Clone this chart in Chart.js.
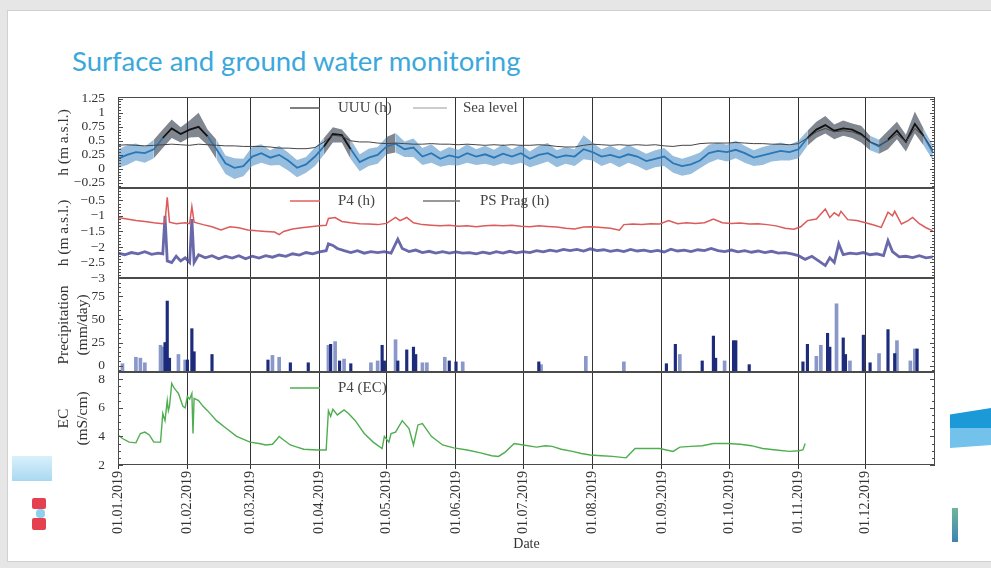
<!DOCTYPE html>
<html>
<head>
<meta charset="utf-8">
<title>Surface and ground water monitoring</title>
<script src="https://cdn.jsdelivr.net/npm/chart.js@4/dist/chart.umd.min.js"></script>
<style>
  html, body { margin: 0; padding: 0; }
  body { width: 991px; height: 568px; background: #e6e6e6; position: relative; overflow: hidden; }
  .slide { position: absolute; left: 7px; top: 10px; width: 990px; height: 552px; background: #fff; border: 1px solid #d0d0d0; box-sizing: border-box; }
  h1 { position: absolute; left: 72px; top: 47px; margin: 0; font: 400 27.5px Lato, sans-serif; color: #3ba8dc; line-height: 1; white-space: nowrap; }
  canvas { position: absolute; left: 0; }
  .deco { position: absolute; }
</style>
</head>
<body>
<div class="slide"></div>
<h1>Surface and ground water monitoring</h1>

<!-- Deko links / rechts -->
<div class="deco" style="left:12px;top:456px;width:40px;height:25px;background:linear-gradient(#d9f0fb,#aad8f1);"></div>
<div class="deco" style="left:32px;top:498px;width:14px;height:11px;background:#e5404f;border-radius:2px;"></div>
<div class="deco" style="left:36px;top:509px;width:9px;height:9px;background:#8fd0ef;border-radius:4px;"></div>
<div class="deco" style="left:32px;top:518px;width:14px;height:12px;background:#e5404f;border-radius:2px;"></div>
<div class="deco" style="left:950px;top:408px;width:41px;height:22px;background:#1b9ad7;clip-path:polygon(0 30%,100% 0,100% 100%,0 100%);"></div>
<div class="deco" style="left:950px;top:428px;width:41px;height:20px;background:#72c2ec;clip-path:polygon(0 0,100% 0,100% 85%,0 100%);"></div>
<div class="deco" style="left:952px;top:508px;width:6px;height:34px;background:linear-gradient(#6db59a,#3f82b5);"></div>

<canvas id="c1" width="940" height="111" style="top:87px"></canvas>
<canvas id="c2" width="940" height="110" style="top:178px"></canvas>
<canvas id="c3" width="940" height="114" style="top:268px"></canvas>
<canvas id="c4" width="940" height="195" style="top:362px"></canvas>

<script>
// x-Werte: Tage seit 01.01.2019
const monthDays = [0, 31, 59, 90, 120, 151, 181, 212, 243, 273, 304, 334];
const monthLabels = ['01.01.2019', '01.02.2019', '01.03.2019', '01.04.2019', '01.05.2019', '01.06.2019',
                     '01.07.2019', '01.08.2019', '01.09.2019', '01.10.2019', '01.11.2019', '01.12.2019'];

// Panel 1: UUU (h) und Sea level
const uuuDays = [0, 4, 8, 12, 16, 20, 24, 28, 32, 36, 40, 44, 48, 52, 56, 60, 64, 68, 72, 76, 80, 84, 88, 92,
  96, 100, 104, 108, 112, 116, 120, 124, 128, 132, 136, 140, 144, 148, 152, 156, 160, 164, 168, 172, 176, 180,
  184, 188, 192, 196, 200, 204, 208, 212, 216, 220, 224, 228, 232, 236, 240, 244, 248, 252, 256, 260, 264, 268,
  272, 276, 280, 284, 288, 292, 296, 300, 304, 308, 312, 316, 320, 324, 328, 332, 336, 340, 344, 348, 352, 356, 360, 364];
const uuuLevel = [0.18, 0.25, 0.30, 0.28, 0.35, 0.55, 0.72, 0.62, 0.70, 0.75, 0.58, 0.35, 0.10, 0.02, 0.05, 0.22,
  0.28, 0.20, 0.25, 0.15, 0.02, 0.08, 0.22, 0.40, 0.62, 0.60, 0.35, 0.12, 0.20, 0.25, 0.40, 0.45, 0.35, 0.38,
  0.22, 0.28, 0.18, 0.24, 0.20, 0.28, 0.22, 0.26, 0.20, 0.27, 0.22, 0.28, 0.18, 0.25, 0.28, 0.20, 0.24, 0.22,
  0.35, 0.30, 0.22, 0.25, 0.20, 0.26, 0.22, 0.14, 0.18, 0.22, 0.10, 0.05, 0.08, 0.15, 0.28, 0.32, 0.30, 0.34,
  0.28, 0.20, 0.24, 0.28, 0.32, 0.30, 0.35, 0.55, 0.70, 0.78, 0.68, 0.72, 0.70, 0.62, 0.48, 0.40, 0.52, 0.68,
  0.48, 0.80, 0.58, 0.30];
const uuuHigh = [0.35, 0.42, 0.45, 0.40, 0.52, 0.70, 0.88, 0.74, 0.86, 1.00, 0.70, 0.52, 0.24, 0.19, 0.18, 0.40,
  0.44, 0.33, 0.41, 0.29, 0.16, 0.21, 0.38, 0.55, 0.74, 0.70, 0.52, 0.26, 0.36, 0.39, 0.57, 0.64, 0.49, 0.54,
  0.37, 0.44, 0.31, 0.39, 0.34, 0.44, 0.35, 0.41, 0.34, 0.44, 0.35, 0.43, 0.31, 0.41, 0.46, 0.33, 0.39, 0.35,
  0.60, 0.47, 0.35, 0.41, 0.33, 0.43, 0.35, 0.27, 0.33, 0.37, 0.23, 0.18, 0.23, 0.29, 0.43, 0.47, 0.43, 0.50,
  0.41, 0.33, 0.39, 0.43, 0.47, 0.43, 0.50, 0.68, 0.84, 0.94, 0.79, 0.86, 0.81, 0.77, 0.59, 0.52, 0.68, 0.84,
  0.61, 1.02, 0.71, 0.42];
const uuuLow = [0.02, 0.07, 0.15, 0.11, 0.19, 0.37, 0.55, 0.47, 0.56, 0.57, 0.42, 0.17, -0.09, -0.18, -0.13, 0.05,
  0.11, 0.06, 0.07, -0.03, -0.15, -0.07, 0.05, 0.25, 0.47, 0.47, 0.17, -0.04, 0.05, 0.09, 0.26, 0.29, 0.21, 0.21,
  0.07, 0.11, 0.04, 0.07, 0.06, 0.11, 0.07, 0.09, 0.05, 0.10, 0.07, 0.11, 0.03, 0.08, 0.13, 0.03, 0.09, 0.05,
  0.17, 0.15, 0.05, 0.11, 0.03, 0.11, 0.05, -0.03, 0.03, 0.05, -0.07, -0.12, -0.09, 0.01, 0.11, 0.17, 0.13, 0.19,
  0.11, 0.05, 0.07, 0.13, 0.15, 0.15, 0.19, 0.41, 0.55, 0.63, 0.53, 0.59, 0.55, 0.47, 0.33, 0.27, 0.35, 0.53,
  0.31, 0.63, 0.41, 0.16];
const seaLevel = [0.42, 0.43, 0.42, 0.41, 0.42, 0.43, 0.44, 0.43, 0.42, 0.44, 0.43, 0.42, 0.41, 0.41, 0.40, 0.40,
  0.40, 0.39, 0.37, 0.37, 0.36, 0.36, 0.38, 0.48, 0.60, 0.58, 0.50, 0.48, 0.48, 0.46, 0.45, 0.46, 0.45, 0.44,
  0.44, 0.45, 0.44, 0.44, 0.43, 0.44, 0.43, 0.42, 0.43, 0.42, 0.43, 0.42, 0.42, 0.43, 0.42, 0.40, 0.39, 0.39,
  0.42, 0.44, 0.43, 0.42, 0.43, 0.42, 0.43, 0.42, 0.43, 0.41, 0.40, 0.42, 0.42, 0.45, 0.46, 0.46, 0.46, 0.47,
  0.46, 0.45, 0.45, 0.44, 0.44, 0.43, 0.45, 0.55, 0.66, 0.72, 0.66, 0.68, 0.66, 0.60, 0.48, 0.42, 0.50, 0.62,
  0.48, 0.72, 0.58, 0.34];

// Panel 2: P4 (h) und PS Prag (h)
const p4Days = [0, 4, 8, 12, 16, 20, 21, 22, 23, 26, 30, 32, 33, 34, 38, 42, 46, 50, 54, 58, 62, 66, 70, 72, 74, 78,
  82, 86, 90, 93, 94, 97, 100, 104, 108, 112, 116, 120, 124, 126, 129, 132, 136, 140, 144, 148, 152, 156, 160, 164,
  168, 172, 176, 180, 184, 188, 192, 196, 200, 204, 208, 212, 216, 220, 224, 226, 230, 234, 238, 242, 246, 250, 254,
  258, 262, 266, 270, 274, 278, 282, 286, 290, 294, 298, 302, 305, 308, 312, 316, 318, 320, 322, 323, 326, 330, 334,
  338, 341, 344, 346, 347, 350, 353, 355, 358, 361, 364];
const p4Level = [-1.05, -1.10, -1.15, -1.18, -1.22, -1.25, -1.20, -0.40, -1.20, -1.25, -1.22, -1.25, -0.70, -1.20,
  -1.28, -1.35, -1.45, -1.35, -1.38, -1.45, -1.48, -1.50, -1.52, -1.60, -1.50, -1.42, -1.38, -1.35, -1.32, -1.30,
  -1.08, -1.05, -1.18, -1.22, -1.25, -1.26, -1.28, -1.24, -1.05, -1.15, -1.05, -1.22, -1.28, -1.30, -1.32, -1.30,
  -1.33, -1.32, -1.35, -1.32, -1.30, -1.32, -1.30, -1.33, -1.35, -1.32, -1.34, -1.36, -1.40, -1.42, -1.36, -1.35,
  -1.37, -1.40, -1.46, -1.28, -1.26, -1.28, -1.25, -1.26, -1.15, -1.25, -1.22, -1.24, -1.22, -1.10, -1.22, -1.24,
  -1.23, -1.26, -1.25, -1.28, -1.32, -1.40, -1.43, -1.35, -1.15, -1.10, -0.78, -1.05, -0.90, -1.00, -0.85, -1.12,
  -1.15, -1.22, -1.30, -1.37, -0.88, -1.00, -0.85, -1.26, -1.15, -1.05, -1.25, -1.38, -1.48];
const psDays = [0, 3, 6, 9, 12, 15, 18, 20, 21, 22, 24, 26, 28, 30, 32, 33, 34, 36, 39, 42, 45, 48, 51, 54, 57, 60,
  63, 66, 69, 72, 75, 78, 81, 84, 87, 90, 93, 94, 96, 98, 101, 104, 107, 110, 113, 116, 119, 122, 125, 127, 130,
  133, 136, 139, 142, 145, 148, 151, 154, 157, 160, 163, 166, 169, 172, 175, 178, 181, 184, 187, 190, 193, 196,
  199, 202, 205, 208, 211, 214, 217, 220, 223, 226, 229, 232, 235, 238, 241, 244, 247, 250, 253, 256, 259, 262,
  265, 268, 271, 274, 277, 280, 283, 286, 289, 292, 295, 298, 301, 304, 307, 310, 313, 316, 318, 320, 322, 324,
  327, 330, 333, 336, 339, 342, 344, 346, 349, 352, 355, 358, 361, 364];
const psLevel = [-2.20, -2.25, -2.18, -2.22, -2.15, -2.24, -2.20, -2.22, -1.00, -2.45, -2.50, -2.30, -2.45, -2.35,
  -2.50, -1.10, -2.50, -2.25, -2.35, -2.28, -2.38, -2.30, -2.36, -2.28, -2.38, -2.30, -2.36, -2.28, -2.33, -2.26,
  -2.30, -2.22, -2.26, -2.18, -2.22, -2.16, -2.12, -1.90, -1.95, -2.05, -2.12, -2.18, -2.12, -2.20, -2.15, -2.18,
  -2.15, -2.20, -1.75, -2.05, -2.15, -2.10, -2.18, -2.14, -2.20, -2.15, -2.20, -2.16, -2.20, -2.18, -2.22, -2.17,
  -2.21, -2.15, -2.20, -2.14, -2.19, -2.15, -2.18, -2.12, -2.16, -2.10, -2.14, -2.08, -2.12, -2.08, -2.13, -2.06,
  -2.12, -2.09, -2.14, -2.10, -2.15, -2.08, -2.13, -2.10, -2.15, -2.11, -2.16, -2.07, -2.13, -2.10, -2.15, -2.09,
  -2.12, -2.05, -2.12, -2.15, -2.10, -2.16, -2.12, -2.17, -2.13, -2.18, -2.14, -2.20, -2.18, -2.22, -2.28, -2.40,
  -2.30, -2.45, -2.60, -2.35, -2.50, -1.90, -2.25, -2.20, -2.22, -2.18, -2.25, -2.22, -2.28, -1.80, -2.15, -2.32,
  -2.30, -2.34, -2.28, -2.35, -2.32];

// Panel 3: Niederschlag (mm/day), zwei Stationen
const rainLightDays = [2, 8, 10, 12, 19, 20, 27, 30, 69, 72, 94, 97, 101, 113, 116, 124, 136, 138, 146, 154, 189,
  209, 226, 251, 271, 312, 314, 321, 327, 340, 348, 354, 356];
const rainLight = [2, 9, 8, 3, 22, 20, 12, 6, 11, 9, 22, 26, 7, 3, 5, 28, 3, 3, 9, 4, 1, 10, 4, 12, 5, 10, 22, 67,
  5, 13, 27, 5, 18];
const rainDarkDays = [21, 22, 23, 31, 33, 34, 42, 67, 77, 85, 95, 99, 104, 118, 119, 125, 129, 132, 133, 148, 151,
  188, 245, 249, 261, 266, 267, 275, 276, 282, 306, 308, 317, 318, 324, 325, 333, 336, 344, 347, 357];
const rainDark = [25, 70, 8, 6, 40, 15, 12, 6, 3, 3, 23, 5, 2, 22, 5, 5, 17, 20, 12, 5, 4, 4, 2, 23, 5, 32, 8, 27,
  27, 1, 4, 23, 35, 20, 30, 12, 33, 3, 39, 13, 18];

// Panel 4: P4 (EC) in mS/cm
const ecDays = [0, 2, 5, 8, 10, 12, 14, 16, 19, 20, 21, 22, 22.5, 23, 24, 25, 26, 27, 29, 30, 31, 32, 33, 33.5, 34,
  36, 38, 40, 44, 48, 53, 59, 63, 66, 69, 71, 72, 74, 77, 80, 83, 89, 93, 94, 95, 96, 98, 101, 103, 106, 110, 114,
  118, 119, 121, 122, 124, 127, 130, 132, 134, 136, 140, 145, 150, 156, 162, 167, 170, 173, 177, 181, 187, 191, 194,
  198, 203, 207, 211, 216, 221, 227, 231, 236, 242, 248, 251, 256, 261, 266, 272, 278, 283, 288, 294, 300, 304, 306, 307];
const ecValue = [4.1, 3.85, 3.6, 3.55, 4.2, 4.3, 4.1, 3.6, 3.6, 5.6, 5.1, 6.5, 5.8, 6.1, 7.7, 7.4, 7.2, 7.0, 6.1, 6.0,
  6.8, 6.6, 7.0, 4.2, 6.65, 6.5, 6.1, 5.8, 5.1, 4.6, 4.0, 3.6, 3.5, 3.4, 3.45, 3.8, 4.0, 3.75, 3.4, 3.25, 3.1, 3.05,
  3.05, 5.8, 5.4, 5.9, 5.5, 5.85, 5.6, 5.1, 4.2, 3.6, 3.15, 4.0, 3.6, 4.2, 4.3, 5.1, 4.55, 3.4, 4.8, 4.9, 4.0, 3.4,
  3.2, 3.05, 2.85, 2.65, 2.6, 2.9, 3.5, 3.4, 3.25, 3.35, 3.3, 3.1, 2.95, 2.8, 2.7, 2.65, 2.6, 2.5, 3.15, 3.15, 3.15,
  2.95, 3.25, 3.3, 3.35, 3.5, 3.5, 3.45, 3.35, 3.15, 3.05, 2.95, 3.0, 3.05, 3.5];

// --- Hilfsfunktionen ---
const pts = (xs, ys) => xs.map((x, i) => ({ x: x, y: ys[i] }));
const fmt = v => (v < 0 ? '\u2212' + Math.abs(v) : String(v));
const mid = c => (c.p0.parsed.y + c.p1.parsed.y) / 2;

Chart.defaults.font.family = '"Liberation Serif", "Times New Roman", serif';
Chart.defaults.color = '#333';
Chart.defaults.animation = false;
Chart.defaults.responsive = false;
Chart.defaults.plugins.legend.display = false;
Chart.defaults.plugins.tooltip.enabled = false;
Chart.defaults.elements.point.radius = 0;
Chart.defaults.elements.line.tension = 0;

// Rahmen um jedes Panel + kleine Ticks nach innen
const framePlugin = {
  id: 'frame',
  afterDraw(chart, args, opts) {
    const { ctx, chartArea: a } = chart;
    const y = chart.scales.y;
    ctx.save();
    ctx.strokeStyle = '#4a4a4a';
    ctx.lineWidth = 1;
    ctx.strokeRect(a.left + 0.5, a.top + 0.5, a.right - a.left - 1, a.bottom - a.top - 1);
    ctx.beginPath();
    const n0 = Math.ceil(y.min / opts.minor - 1e-9);
    const n1 = Math.floor(y.max / opts.minor + 1e-9);
    for (let n = n0; n <= n1; n++) {
      const v = n * opts.minor;
      const py = Math.round(y.getPixelForValue(v)) + 0.5;
      const len = opts.major.some(m => Math.abs(m - v) < 1e-6) ? 5 : 3;
      ctx.moveTo(a.left, py); ctx.lineTo(a.left + len, py);
      ctx.moveTo(a.right, py); ctx.lineTo(a.right - len, py);
    }
    ctx.stroke();
    ctx.restore();
  }
};

// Legende innerhalb des Panels
const legendPlugin = {
  id: 'panelLegend',
  afterDraw(chart, args, opts) {
    const { ctx, chartArea: a } = chart;
    const y = a.top + opts.dy;
    ctx.save();
    ctx.font = '15px "Liberation Serif"';
    ctx.textBaseline = 'middle';
    opts.items.forEach(it => {
      ctx.strokeStyle = it.color;
      ctx.lineWidth = 1.5;
      ctx.beginPath();
      ctx.moveTo(a.left + it.x0, y);
      ctx.lineTo(a.left + it.x1, y);
      ctx.stroke();
      ctx.fillStyle = '#444';
      ctx.fillText(it.text, a.left + it.tx, y);
    });
    ctx.restore();
  }
};

function xAxis(bottom) {
  return {
    type: 'linear',
    min: 0,
    max: 365,
    offset: false,
    afterBuildTicks: s => { s.ticks = monthDays.map(v => ({ value: v })); },
    afterFit: s => { s.paddingLeft = 0; s.paddingRight = 0; if (bottom) s.height = 90; },
    grid: { color: '#333', lineWidth: 1, offset: false, drawTicks: bottom, tickLength: 4 },
    border: { display: false },
    ticks: bottom
      ? { autoSkip: false, minRotation: 90, maxRotation: 90, padding: 2, font: { size: 14 },
          callback: v => monthLabels[monthDays.indexOf(v)] }
      : { display: false },
    title: bottom
      ? { display: true, text: 'Date', font: { size: 14 }, padding: { top: 0, bottom: 2 } }
      : { display: false }
  };
}

function yAxis(min, max, ticks, title) {
  return {
    min: min,
    max: max,
    afterBuildTicks: s => { s.ticks = ticks.map(v => ({ value: v })); },
    afterFit: s => { s.width = 118; s.paddingTop = 0; s.paddingBottom = 0; },
    grid: { display: false },
    border: { display: false },
    ticks: { autoSkip: false, padding: 5, font: { size: 13.5 }, callback: fmt },
    title: { display: true, text: title, font: { size: 15.5 }, padding: { top: 55, bottom: 0 } }
  };
}

const pad = { top: 10, bottom: 10, left: 0, right: 5 };

// Panel 1
const ticks1 = [-0.25, 0, 0.25, 0.5, 0.75, 1, 1.25];
new Chart(document.getElementById('c1'), {
  type: 'line',
  data: {
    datasets: [
      { data: pts(uuuDays, uuuHigh), borderWidth: 0, backgroundColor: 'rgba(95,155,205,0.65)', fill: '+1', order: 3,
        segment: { backgroundColor: c => mid(c) > 0.6 ? 'rgba(45,55,70,0.6)' : 'rgba(95,155,205,0.65)' } },
      { data: pts(uuuDays, uuuLow), borderWidth: 0, fill: false, order: 3 },
      { label: 'UUU (h)', data: pts(uuuDays, uuuLevel), borderWidth: 1.8, borderColor: '#2f7fbd', fill: false, order: 2,
        segment: { borderColor: c => mid(c) > 0.47 ? '#111' : '#2a77b5' } },
      { label: 'Sea level', data: pts(uuuDays, seaLevel), borderWidth: 1, borderColor: '#444', fill: false, order: 1 }
    ]
  },
  options: {
    layout: { padding: pad },
    scales: { x: xAxis(false), y: yAxis(-0.34, 1.28, ticks1, 'h (m a.s.l.)') },
    plugins: {
      frame: { major: ticks1, minor: 0.05 },
      panelLegend: { dy: 11, items: [
        { text: 'UUU (h)', color: '#555', x0: 172, x1: 202, tx: 220 },
        { text: 'Sea level', color: '#bbb', x0: 295, x1: 329, tx: 345 }
      ] }
    }
  },
  plugins: [framePlugin, legendPlugin]
});

// Panel 2
const ticks2 = [-3, -2.5, -2, -1.5, -1, -0.5];
new Chart(document.getElementById('c2'), {
  type: 'line',
  data: {
    datasets: [
      { label: 'P4 (h)', data: pts(p4Days, p4Level), borderWidth: 1.5, borderColor: '#dc5a5a' },
      { label: 'PS Prag (h)', data: pts(psDays, psLevel), borderWidth: 2.8, borderColor: 'rgba(78,78,155,0.85)' }
    ]
  },
  options: {
    layout: { padding: pad },
    scales: { x: xAxis(false), y: yAxis(-3, -0.1, ticks2, 'h (m a.s.l.)') },
    plugins: {
      frame: { major: ticks2, minor: 0.1 },
      panelLegend: { dy: 13, items: [
        { text: 'P4 (h)', color: '#e06060', x0: 172, x1: 202, tx: 220 },
        { text: 'PS Prag (h)', color: '#777', x0: 305, x1: 342, tx: 362 }
      ] }
    }
  },
  plugins: [framePlugin, legendPlugin]
});

// Panel 3
const ticks3 = [0, 25, 50, 75];
new Chart(document.getElementById('c3'), {
  type: 'bar',
  data: {
    datasets: [
      { data: pts(rainDarkDays, rainDark), backgroundColor: '#1d2b7c', barThickness: 2.5, grouped: false, base: -7 },
      { data: pts(rainLightDays, rainLight), backgroundColor: 'rgba(125,140,195,0.9)', barThickness: 3, grouped: false, base: -7 }
    ]
  },
  options: {
    layout: { padding: pad },
    scales: { x: xAxis(false), y: yAxis(-7, 95, ticks3, ['Precipitation', '(mm/day)']) },
    plugins: { frame: { major: ticks3, minor: 5 } }
  },
  plugins: [framePlugin]
});

// Panel 4
const ticks4 = [2, 4, 6, 8];
new Chart(document.getElementById('c4'), {
  type: 'line',
  data: {
    datasets: [
      { label: 'P4 (EC)', data: pts(ecDays, ecValue), borderWidth: 1.4, borderColor: '#4fae4f' }
    ]
  },
  options: {
    layout: { padding: { top: 10, bottom: 2, left: 0, right: 5 } },
    scales: { x: xAxis(true), y: yAxis(2, 8.5, ticks4, ['EC', '(mS/cm)']) },
    plugins: {
      frame: { major: ticks4, minor: 0.5 },
      panelLegend: { dy: 16, items: [
        { text: 'P4 (EC)', color: '#4fae4f', x0: 172, x1: 202, tx: 220 }
      ] }
    }
  },
  plugins: [framePlugin, legendPlugin]
});
</script>
</body>
</html>
